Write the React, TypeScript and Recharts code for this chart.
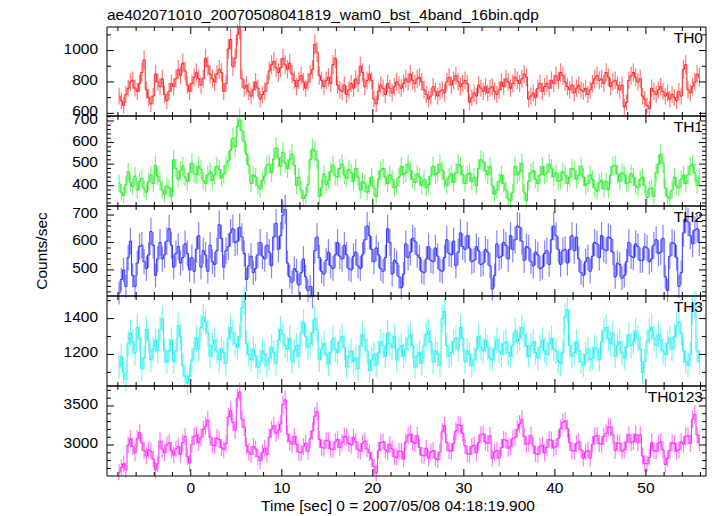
import React from "react";
import { ComposedChart, Line, ErrorBar, XAxis, YAxis } from "recharts";

// light curve, 0.25 s bins starting at t = -7.875 s
const T0 = -7.875;
const BIN = 0.25;

const TH0 = [
  710,680,650,720,760,800,810,760,740,790,860,940,750,700,660,710,
  850,800,770,820,720,680,740,790,770,820,880,840,920,870,780,740,
  790,830,860,820,780,820,950,900,850,820,800,850,880,860,740,790,
  1010,1070,900,950,1100,1140,820,760,780,740,710,750,800,760,690,720,
  740,790,870,910,930,890,860,890,950,910,880,920,850,810,770,810,
  840,800,760,800,850,880,1040,990,840,810,770,810,830,790,910,950,
  780,750,740,780,720,750,790,760,820,790,900,860,770,810,850,810,
  690,660,740,780,760,720,790,760,730,770,800,780,760,790,820,800,
  850,810,790,820,830,800,750,720,690,710,770,740,710,740,750,730,
  800,830,780,810,840,800,770,790,810,790,670,700,730,710,780,760,
  740,770,730,760,770,740,720,750,800,770,820,800,760,790,830,810,
  790,820,850,830,690,710,730,700,760,790,740,770,790,760,810,790,
  840,810,860,840,800,770,750,780,730,760,780,750,740,760,720,750,
  790,820,840,810,820,790,860,830,770,800,810,780,750,780,640,670,
  810,840,860,830,800,820,710,690,650,630,760,740,720,750,770,740,
  710,730,690,720,700,680,740,710,880,910,750,730,770,800,850,830,
];

const TH1 = [
  410,370,355,405,465,415,395,445,380,420,435,385,370,420,450,410,
  495,445,420,380,360,400,390,350,520,480,430,470,490,440,420,460,
  505,455,450,490,475,425,410,450,465,425,450,490,475,435,455,495,
  515,565,620,580,675,705,655,605,545,495,410,450,440,400,385,425,
  445,495,500,460,525,575,530,490,555,505,480,520,545,495,400,440,
  380,340,355,405,520,570,560,520,350,390,455,405,425,465,495,445,
  440,480,500,450,435,475,460,420,480,440,380,420,410,370,400,440,
  390,350,430,470,480,440,410,450,430,390,400,440,490,450,460,500,
  470,430,415,455,440,400,430,390,405,445,490,450,460,500,470,430,
  400,440,455,415,460,500,490,450,410,450,460,420,440,400,480,520,
  510,470,450,490,400,360,380,420,450,410,380,340,330,370,490,450,
  465,505,370,330,420,460,470,430,410,450,490,450,460,500,480,440,
  460,420,425,465,450,410,440,480,470,430,450,490,440,400,410,450,
  430,390,375,415,425,385,420,380,450,490,495,455,420,460,450,410,
  415,455,440,400,390,430,440,400,345,385,390,350,460,500,545,505,
  390,350,340,380,440,400,390,430,450,410,450,490,500,460,400,440,
];

const TH2 = [
  415,465,500,440,545,605,480,440,525,585,590,530,505,555,640,590,
  480,540,600,540,555,605,650,590,510,560,585,525,545,595,560,500,
  545,495,575,625,510,570,555,495,590,530,520,570,665,615,510,570,
  585,635,650,600,605,655,620,560,465,515,550,490,505,555,600,550,
  540,590,565,515,620,670,575,625,700,720,525,475,455,505,495,445,
  490,540,475,425,440,400,570,620,545,495,485,535,565,515,505,555,
  600,550,540,590,555,505,500,550,565,515,505,555,610,660,625,575,
  530,580,555,505,495,545,650,600,485,535,525,475,435,485,595,545,
  565,615,605,555,545,495,490,540,585,535,530,580,550,500,495,545,
  610,560,555,605,515,565,635,585,575,625,580,530,535,585,570,520,
  525,575,565,515,430,480,595,545,550,600,590,540,625,575,610,660,
  655,605,535,585,580,530,515,565,555,505,510,560,570,520,610,660,
  625,575,520,570,575,525,575,625,570,620,540,490,480,530,545,495,
  550,600,595,545,625,575,570,620,615,565,475,525,520,470,480,530,
  600,550,545,595,585,535,535,585,580,530,540,590,610,560,565,615,
  475,425,550,600,595,545,440,490,635,685,675,625,595,645,650,600,
];

const TH3 = [
  1130,1190,1100,1060,1260,1320,1270,1210,1350,1290,1120,1180,1340,1280,1170,1230,
  1280,1220,1340,1400,1220,1160,1220,1280,1160,1220,1360,1300,1140,1080,1040,1080,
  1170,1230,1290,1230,1350,1410,1380,1320,1190,1250,1280,1220,1170,1230,1210,1150,
  1290,1350,1320,1260,1240,1300,1460,1500,1260,1200,1170,1230,1190,1130,1160,1220,
  1200,1140,1180,1240,1210,1150,1280,1340,1310,1250,1230,1290,1160,1220,1250,1190,
  1320,1380,1300,1240,1260,1320,1400,1340,1170,1230,1260,1200,1150,1210,1290,1230,
  1210,1270,1300,1240,1130,1190,1220,1160,1180,1120,1250,1310,1280,1220,1110,1170,
  1200,1140,1210,1270,1250,1190,1320,1260,1240,1300,1170,1230,1250,1190,1230,1290,
  1310,1250,1130,1190,1210,1150,1250,1310,1330,1270,1160,1220,1200,1140,1400,1440,
  1250,1190,1210,1270,1290,1230,1350,1290,1160,1220,1200,1140,1170,1230,1300,1240,
  1220,1280,1240,1180,1170,1230,1280,1220,1200,1260,1270,1210,1190,1250,1330,1270,
  1290,1350,1310,1250,1190,1250,1270,1210,1180,1240,1280,1220,1200,1260,1290,1230,
  1220,1160,1150,1210,1410,1450,1250,1190,1210,1270,1220,1160,1140,1200,1230,1170,
  1180,1240,1230,1170,1270,1330,1350,1290,1260,1320,1190,1250,1270,1210,1180,1240,
  1310,1250,1270,1330,1290,1230,1100,1160,1270,1330,1350,1290,1250,1310,1280,1220,
  1200,1260,1290,1230,1300,1360,1380,1320,1220,1160,1140,1200,1440,1480,1220,1160,
];

const TH0123 = [
  2650,2710,2760,2680,3000,3080,2980,2900,3080,3160,3030,2930,2860,2940,2920,2820,
  2680,2760,3050,2950,2900,3000,3030,2930,2870,2950,2980,2880,3030,3110,2850,2770,
  3010,3110,3130,3030,3100,3200,3240,3320,3100,3000,2990,3090,3070,2970,2940,3020,
  3360,3440,3290,3190,3600,3680,3330,3230,2990,2910,2880,2980,2950,2850,2800,2900,
  2960,2880,3100,3200,3250,3150,3190,3270,3520,3580,3140,3040,3010,3110,3010,2910,
  2900,2980,3020,2920,3080,3180,3370,3430,3070,2970,2960,3060,3050,2950,2940,3040,
  3070,2970,3030,3110,3100,3020,3000,3100,3040,2940,2920,3020,3050,2950,2900,2820,
  2720,2640,2930,3030,3040,2940,2910,3010,2950,2850,2840,2920,2920,2820,3040,3120,
  3140,3040,3020,3120,2970,2870,2860,2960,2830,2910,2930,2830,2810,2910,3170,3250,
  3030,2930,2920,3020,3180,3260,3250,3150,2990,2890,2880,2980,3000,2900,3030,3130,
  3140,3040,3020,3120,2830,2910,2930,2830,2970,3070,3060,2960,2980,3080,3100,3200,
  3270,3330,3110,3010,3020,3120,2990,2890,2880,2980,3000,2900,2970,3070,3060,2960,
  2980,3080,3210,3290,3310,3210,3030,2930,2920,3020,3040,2940,2830,2910,2930,2830,
  3010,3110,3120,3020,3010,3110,3150,3230,3230,3130,2930,3030,3020,2920,2940,3040,
  3130,3030,3040,3140,3030,3130,2860,2760,2760,2840,3030,2930,2920,3020,3040,2940,
  2750,2830,2930,3030,3020,2920,2940,3040,3010,3110,3120,3020,3330,3390,3130,3030,
];

const X_DOMAIN = [-9.2, 56.6];
const X_TICKS = [-8,-6,-4,-2,0,2,4,6,8,10,12,14,16,18,20,22,24,26,28,30,32,34,36,38,40,42,44,46,48,50,52,54,56];

const range = (a: number, b: number, s: number) => {
  const out: number[] = [];
  for (let v = a; v <= b + 1e-9; v += s) out.push(v);
  return out;
};

const PANELS = [
  { name: "TH0", color: "#ff2020", values: TH0, domain: [583, 1150], major: [600, 800, 1000], ticks: range(600, 1100, 100) },
  { name: "TH1", color: "#22ee22", values: TH1, domain: [306, 723], major: [400, 500, 600, 700], ticks: range(320, 720, 20) },
  { name: "TH2", color: "#3030ff", values: TH2, domain: [405, 733], major: [500, 600, 700], ticks: range(420, 720, 20) },
  { name: "TH3", color: "#20f0f0", values: TH3, domain: [1024, 1526], major: [1200, 1400], ticks: range(1100, 1500, 100) },
  { name: "TH0123", color: "#ff20ff", values: TH0123, domain: [2603, 3756], major: [3000, 3500], ticks: range(2700, 3700, 100) },
];

const W = 717;
const H = 516;
const LEFT = 107;
const RIGHT = 706;
const TOPS = [27, 116, 206, 296, 386];
const BOTTOMS = [116, 206, 296, 386, 476];
const FONT = "'Liberation Sans', Arial, Helvetica, sans-serif";
const FS = 15.5;

function XTick({ x, y, payload, top, labels }: any) {
  const major = payload.value % 10 === 0;
  const len = major ? 7 : 4;
  return (
    <g>
      <line x1={x} x2={x} y1={y} y2={top ? y + len : y - len} stroke="#000" />
      {labels && major && (
        <text x={x} y={y + 17} textAnchor="middle" fontSize={FS} fontFamily={FONT} fill="#000">
          {payload.value}
        </text>
      )}
    </g>
  );
}

function YTick({ x, y, payload, right, major }: any) {
  const isMajor = major.includes(payload.value);
  const len = isMajor ? 7 : 4;
  return (
    <g>
      <line x1={x} x2={right ? x - len : x + len} y1={y} y2={y} stroke="#000" />
      {!right && isMajor && (
        <text x={x - 9} y={y + 3} textAnchor="end" fontSize={FS} fontFamily={FONT} fill="#000">
          {payload.value}
        </text>
      )}
    </g>
  );
}

function Panel({ p, idx }: { p: (typeof PANELS)[number]; idx: number }) {
  // counting errors for the 0.25 s exposures
  const data = p.values.map((v, i) => ({ t: T0 + i * BIN, v, err: Math.sqrt(v / BIN) }));
  const last = idx === PANELS.length - 1;
  return (
    <div style={{ position: "absolute", left: 0, top: 0 }}>
      <ComposedChart
        width={W}
        height={H}
        data={data}
        margin={{ top: TOPS[idx] - 1, bottom: H - BOTTOMS[idx] - 1, left: LEFT - 1, right: W - RIGHT - 1 }}
      >
        <XAxis
          xAxisId="b"
          dataKey="t"
          type="number"
          domain={X_DOMAIN}
          allowDataOverflow
          ticks={X_TICKS}
          interval={0}
          height={1}
          tickSize={0}
          tickMargin={0}
          tickLine={false}
          axisLine={{ stroke: "#000" }}
          tick={(props: any) => <XTick {...props} labels={last} />}
        />
        <XAxis
          xAxisId="t"
          orientation="top"
          dataKey="t"
          type="number"
          domain={X_DOMAIN}
          allowDataOverflow
          ticks={X_TICKS}
          interval={0}
          height={1}
          tickSize={0}
          tickMargin={0}
          tickLine={false}
          axisLine={{ stroke: "#000" }}
          tick={(props: any) => <XTick {...props} top />}
        />
        <YAxis
          yAxisId="l"
          type="number"
          domain={p.domain}
          allowDataOverflow
          ticks={p.ticks}
          interval={0}
          width={1}
          tickSize={0}
          tickMargin={0}
          tickLine={false}
          axisLine={{ stroke: "#000" }}
          tick={(props: any) => <YTick {...props} major={p.major} />}
        />
        <YAxis
          yAxisId="r"
          orientation="right"
          type="number"
          domain={p.domain}
          allowDataOverflow
          ticks={p.ticks}
          interval={0}
          width={1}
          tickSize={0}
          tickMargin={0}
          tickLine={false}
          axisLine={{ stroke: "#000" }}
          tick={(props: any) => <YTick {...props} major={p.major} right />}
        />
        <Line
          xAxisId="b"
          yAxisId="l"
          type="step"
          dataKey="v"
          stroke={p.color}
          strokeWidth={1}
          dot={false}
          isAnimationActive={false}
        >
          <ErrorBar dataKey="err" width={0} stroke={p.color} strokeWidth={1.2} strokeOpacity={0.6} direction="y" isAnimationActive={false} />
        </Line>
      </ComposedChart>
    </div>
  );
}

export default function App() {
  return (
    <div style={{ position: "absolute", left: 0, top: 0, width: W, height: H, background: "#fff" }}>
      {PANELS.map((p, i) => (
        <Panel key={p.name} p={p} idx={i} />
      ))}
      <svg width={W} height={H} style={{ position: "absolute", left: 0, top: 0, pointerEvents: "none" }}>
        <text x={107} y={20} fontSize={FS} fontFamily={FONT} fill="#000">
          ae402071010_20070508041819_wam0_bst_4band_16bin.qdp
        </text>
        {PANELS.map((p, i) => (
          <text key={p.name} x={703} y={TOPS[i] + 16} textAnchor="end" fontSize={FS} fontFamily={FONT} fill="#000">
            {p.name}
          </text>
        ))}
        <text
          x={47}
          y={251}
          transform="rotate(-90 47 251)"
          textAnchor="middle"
          fontSize={FS}
          fontFamily={FONT}
          fill="#000"
        >
          Counts/sec
        </text>
        <text x={398} y={511} textAnchor="middle" fontSize={FS} fontFamily={FONT} fill="#000">
          Time [sec] 0 = 2007/05/08 04:18:19.900
        </text>
      </svg>
    </div>
  );
}
